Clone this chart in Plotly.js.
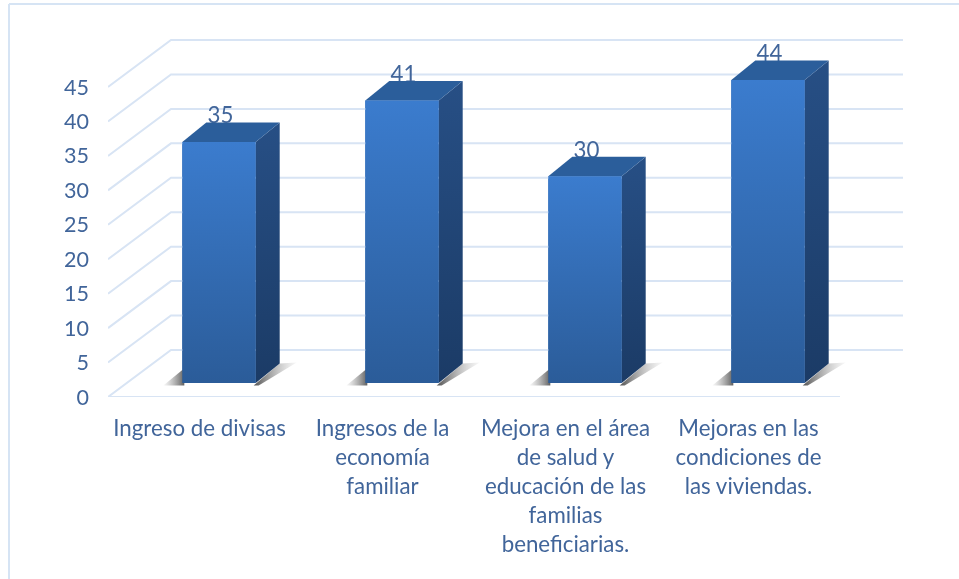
<!DOCTYPE html>
<html><head><meta charset="utf-8">
<script src="https://cdn.plot.ly/plotly-3.0.1.min.js"></script>
<style>html,body{margin:0;padding:0;background:#fff}#c{width:959px;height:579px;filter:blur(0.35px)}</style>
</head><body><div id="c"></div>
<script>
const categories = ["Ingreso de divisas","Ingresos de la<br>economía<br>familiar","Mejora en el área<br>de salud y<br>educación de las<br>familias<br>beneficiarias.","Mejoras en las<br>condiciones de<br>las viviendas."];
const values = [35,41,30,44];
const valueTicks = [0,5,10,15,20,25,30,35,40,45];

const W=959,H=579,L=108,R=903,T=35,B=397;
const pxX=183, pxY=310/45;
const depthX=63/pxX, depthY=47/pxY;      // floor depth in axis units
const barOffX=19.5/pxX, barOffY=14/pxY;  // bar front position on the floor
const barDX=24/pxX, barDY=19.5/pxY;      // bar depth
const halfW=36.7/pxX;
const xMin=-0.5, xMax=xMin+(R-L)/pxX, yMax=(B-T)/pxY;
const TXT='#41659a', GRID='#d8e4f4';
const font='Lato, "Open Sans", sans-serif';

const traces=[];
const catIdx=values.map((v,i)=>i);
// real bars (front faces)
traces.push({type:'bar',x:catIdx.map(i=>i+barOffX),y:values,base:values.map(()=>barOffY),
  width:2*halfW,marker:{color:'#3268ad',line:{width:0}},hoverinfo:'skip'});
// wall + side gridlines
const gx=[],gy=[];
valueTicks.forEach(t=>{
  gx.push(xMin,xMin+depthX,xMax,null);
  gy.push(t,t+depthY,t+depthY,null);
});
traces.push({type:'scatter',mode:'lines',x:gx,y:gy,line:{color:GRID,width:2},hoverinfo:'skip'});
// front edge of floor
traces.push({type:'scatter',mode:'lines',x:[xMin,xMin+4],y:[0,0],line:{color:GRID,width:2},hoverinfo:'skip',cliponaxis:false});
// value labels (sit behind the bar tops)
traces.push({type:'scatter',mode:'text',x:catIdx.map(i=>i+barOffX+1.5/pxX),
  y:values.map(v=>v+barOffY+24/pxY),text:values.map(String),textposition:'middle center',
  textfont:{family:font,size:22.3,color:TXT},hoverinfo:'skip',cliponaxis:false});

function poly(xs,ys,grad){
  traces.push({type:'scatter',mode:'none',x:xs.concat(xs[0]),y:ys.concat(ys[0]),fill:'toself',
    fillgradient:grad,hoverinfo:'skip'});
}
const vg=(a,b)=>({type:'vertical',colorscale:[[0,a],[1,b]]});
const hg=(a,b)=>({type:'horizontal',colorscale:[[0,a],[1,b]]});
values.forEach((v,i)=>{
  const xl=i+barOffX-halfW, xr=i+barOffX+halfW, y0=barOffY, y1=v+y0;
  const dx=barDX, dy=barDY;
  const px=n=>n/pxX, py=n=>n/pxY;
  // floor shadow
  poly([xl-px(19),xl,xl+px(2),xl+px(2)],[y0-py(2.5),y0+py(13),y0+py(13),y0-py(2.5)],hg('rgba(150,150,150,0.05)','rgba(95,95,95,1)'));
  poly([xr-px(2),xr+dx,xr+dx+px(17),xr+px(3)],[y0-py(2.5),y0+dy,y0+dy+py(1),y0-py(2.5)],hg('rgba(80,80,80,1)','rgba(180,180,180,0.1)'));
  // side, top, front faces
  poly([xr,xr+dx,xr+dx,xr],[y0,y0+dy,y1+dy,y1],vg('#1b3b66','#274f85'));
  poly([xl,xr,xr+dx,xl+dx],[y1,y1,y1+dy,y1+dy],vg('#2b5e9b','#2b5e9b'));
  poly([xl,xr,xr,xl],[y0,y0,y1,y1],vg('#2b5c99','#3b7cce'));
});

const frame=(x0,y0,x1,y1)=>({type:'line',xref:'paper',yref:'paper',
  x0:(x0-L)/(R-L),x1:(x1-L)/(R-L),y0:(B-y0)/(B-T),y1:(B-y1)/(B-T),line:{color:'#d6e4f4',width:2},layer:'below'});

Plotly.newPlot('c',traces,{
  width:W,height:H,autosize:false,showlegend:false,barmode:'overlay',
  paper_bgcolor:'#fff',plot_bgcolor:'rgba(0,0,0,0)',
  margin:{l:L,r:W-R,t:T,b:H-B,pad:0},
  xaxis:{range:[xMin,xMax],tickmode:'array',tickvals:catIdx,ticktext:categories,tickangle:0,
    showgrid:false,zeroline:false,showline:false,ticks:'',ticklabelstandoff:16,automargin:false,
    tickfont:{family:font,size:22.3,color:TXT}},
  yaxis:{range:[0,yMax],tickmode:'array',tickvals:valueTicks,ticktext:valueTicks.map(String),
    showgrid:false,zeroline:false,showline:false,ticks:'',ticklabelstandoff:18,automargin:false,
    tickfont:{family:font,size:21.5,color:TXT}},
  shapes:[frame(9,4,9,579),frame(9,4,959,4)]
},{displayModeBar:false,staticPlot:true});
</script></body></html>
